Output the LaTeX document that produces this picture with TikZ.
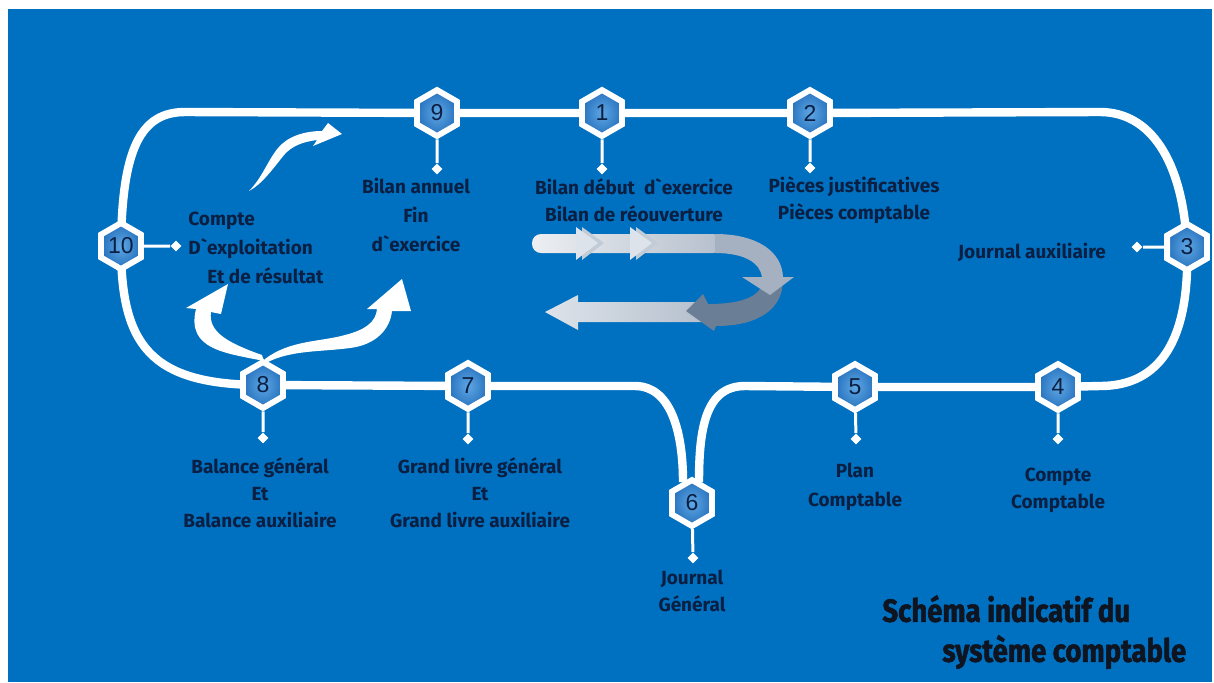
\documentclass[tikz,border=0pt]{standalone}
\usepackage{fontspec}
\setmainfont{Fira Sans}
\newfontfamily\numfont{Liberation Sans}
\newfontfamily\titlefont{Fira Sans}[FakeStretch=0.86, BoldFeatures={FakeBold=1.6}]
\usetikzlibrary{shapes.geometric}

\definecolor{bgblue}{HTML}{0070C0}
\definecolor{ink}{HTML}{0B1F42}
\definecolor{titleink}{HTML}{0E1420}
\definecolor{hexin}{HTML}{5FA6E4}
\definecolor{hexout}{HTML}{2672BE}
\definecolor{bandlight}{HTML}{EDEFF2}
\definecolor{bandgrey}{HTML}{B5BFCC}
\definecolor{bandmid}{HTML}{A5B1C0}
\definecolor{banddark}{HTML}{6A7E95}
\definecolor{chevlight}{HTML}{DDE3EA}
\definecolor{chevshade}{HTML}{C2CCD7}

\pgfdeclarelayer{backdrop}
\pgfdeclarelayer{lines}
\pgfsetlayers{backdrop,lines,main}

\begin{document}
\begin{tikzpicture}[x=0.5pt,y=-0.5pt,
  hexa/.style={regular polygon, regular polygon sides=6, shape border rotate=30,
    minimum size=23pt, inner sep=0pt, draw=white, line width=2.9pt,
    inner color=hexin, outer color=hexout, text=ink,
    font=\numfont\fontsize{11.5}{12}\selectfont},
  track/.style={draw=white, line width=4.2pt},
  stem/.style={draw=white, line width=1.5pt},
  dot/.style={diamond, fill=white, minimum size=5.6pt, inner sep=0pt},
  lab/.style={text=ink, align=center, inner sep=0pt,
    font=\bfseries\fontsize{9.5}{13.5}\selectfont},
  swoosh/.style={fill=white},
]

% page and backdrop
\begin{pgfonlayer}{backdrop}
  \fill[white] (0,0) rectangle (1214,682);
  \fill[bgblue] (8,9) rectangle (1212,682);
\end{pgfonlayer}

% numbered hexagons
\node[hexa] (n9)  at (437,113) {9};
\node[hexa] (n1)  at (602,113) {1};
\node[hexa] (n2)  at (810,113) {2};
\node[hexa] (n3)  at (1187,247) {3};
\node[hexa] (n4)  at (1058,387) {4};
\node[hexa] (n5)  at (855,387) {5};
\node[hexa] (n6)  at (692,503) {6};
\node[hexa] (n7)  at (468,386) {7};
\node[hexa] (n8)  at (263,385) {8};
\node[hexa] (n10) at (121,246) {10};

% end dots of the stems
\node[dot] (d9)  at (437,169) {};
\node[dot] (d1)  at (602,169) {};
\node[dot] (d2)  at (810,168) {};
\node[dot] (d3)  at (1137,247) {};
\node[dot] (d4)  at (1058,439) {};
\node[dot] (d5)  at (856,439) {};
\node[dot] (d6)  at (693,558) {};
\node[dot] (d7)  at (468,439) {};
\node[dot] (d8)  at (263,438) {};
\node[dot] (d10) at (176,246) {};

% bend points of the cycle
\coordinate (tl)  at (185,112);
\coordinate (tr)  at (1100,112);
\coordinate (rb)  at (1100,386);
\coordinate (mr)  at (745,386);
\coordinate (ml)  at (635,386);
\coordinate (j6r) at (699,482);
\coordinate (j6l) at (683,482);

\begin{pgfonlayer}{lines}
  % the cycle
  \draw[track] (n10.center) .. controls (122,150) and (140,112) .. (tl)
    -- (n9.center) -- (n1.center) -- (n2.center) -- (tr)
    .. controls (1150,112) and (1183,160) .. (n3.center);
  \draw[track] (n3.center) .. controls (1190,340) and (1160,386) .. (rb)
    -- (n4.center) -- (n5.center) -- (mr)
    .. controls (705,386) and (699,430) .. (j6r);
  \draw[track] (j6l) .. controls (683,430) and (670,386) .. (ml)
    -- (n7.center) -- (n8.center);
  \draw[track] (n8.center) .. controls (150,385) and (121,345) .. (n10.center);
  % stems
  \draw[stem] (n9) -- (d9);
  \draw[stem] (n1) -- (d1);
  \draw[stem] (n2) -- (d2);
  \draw[stem] (n3) -- (d3);
  \draw[stem] (n4) -- (d4);
  \draw[stem] (n5) -- (d5);
  \draw[stem] (n6) -- (d6);
  \draw[stem] (n7) -- (d7);
  \draw[stem] (n8) -- (d8);
  \draw[stem] (n10) -- (d10);
\end{pgfonlayer}

% labels
\node[lab] (l9) at (416,215) {Bilan annuel\\[1pt]Fin\\[1pt]d\textasciigrave exercice};
\node[lab] (l1) at (634,200) {Bilan début\ \ d\textasciigrave exercice\\Bilan de réouverture};
\node[lab] (l2) at (854,200) {Pièces justificatives\\Pièces comptable};
\node[lab] (l3) at (1032,252) {Journal auxiliaire};
\node[lab, align=left, anchor=west] (l10) at (188,248)
  {Compte\\[1pt]D\textasciigrave exploitation\\[1pt]\hspace*{9.5pt}Et de résultat};
\node[lab] (l8) at (260,493) {Balance général\\Et\\Balance auxiliaire};
\node[lab] (l7) at (480,493) {Grand livre général\\Et\\Grand livre auxiliaire};
\node[lab] (l6) at (692,591) {Journal\\Général};
\node[lab] (l5) at (855,487) {Plan\\[1pt]Comptable};
\node[lab] (l4) at (1058,490) {Compte\\Comptable};

% caption
\node[text=titleink, align=left, anchor=west, inner sep=0pt,
  font=\titlefont\bfseries\fontsize{16}{20}\selectfont] (cap) at (882,632)
  {Schéma indicatif du\\\hspace*{30pt}système comptable};

% white swooshes
\fill[swoosh] (249,191) .. controls (262,178) and (268,160) .. (278,148)
  .. controls (288,136) and (305,131) .. (322,131) -- (328,123) -- (342,134)
  -- (313,146) -- (317,140) .. controls (302,142) and (292,146) .. (284,155)
  .. controls (272,170) and (262,184) .. cycle;
\fill[swoosh] (264,361) .. controls (226,353) and (186,350) .. (196,309)
  -- (186,308) -- (228,284) -- (221,314) -- (211,312)
  .. controls (208,332) and (228,343) .. (262,355) -- cycle;
\fill[swoosh] (265,359) .. controls (290,340) and (320,342) .. (345,335)
  .. controls (365,330) and (376,322) .. (377,309) -- (367,309) -- (402,279)
  -- (411,311) -- (392,311) .. controls (390,330) and (375,345) .. (350,348)
  .. controls (320,352) and (290,350) .. (266,363) -- cycle;

% U-turn arrow in the middle
\shade[left color=chevlight, right color=bandgrey]
  (707,302) -- (578,302) -- (578,295) -- (545,312) -- (578,330) -- (578,322)
  -- (707,322) -- cycle;
\fill[banddark] (783,280) .. controls (783,308) and (760,326) .. (716,326)
  -- (714,331) -- (686,311) -- (703,294) -- (708,304)
  .. controls (745,304) and (762,295) .. (763,280) -- cycle;
\shade[left color=bandlight, right color=bandgrey, rounded corners=4.5pt]
  (532,234) rectangle (722,253);
\fill[bandmid] (715,234) .. controls (758,234) and (782,252) .. (783,277)
  -- (794,277) -- (770,295) -- (742,277) -- (762,277)
  .. controls (760,263) and (745,253) .. (715,253) -- cycle;
\fill[chevshade] (582,227) -- (604,243) -- (582,260) -- cycle;
\fill[chevlight] (576,227) -- (598,243) -- (576,260) -- cycle;
\fill[chevshade] (636,227) -- (658,243) -- (636,260) -- cycle;
\fill[chevlight] (630,227) -- (652,243) -- (630,260) -- cycle;

\end{tikzpicture}
\end{document}
